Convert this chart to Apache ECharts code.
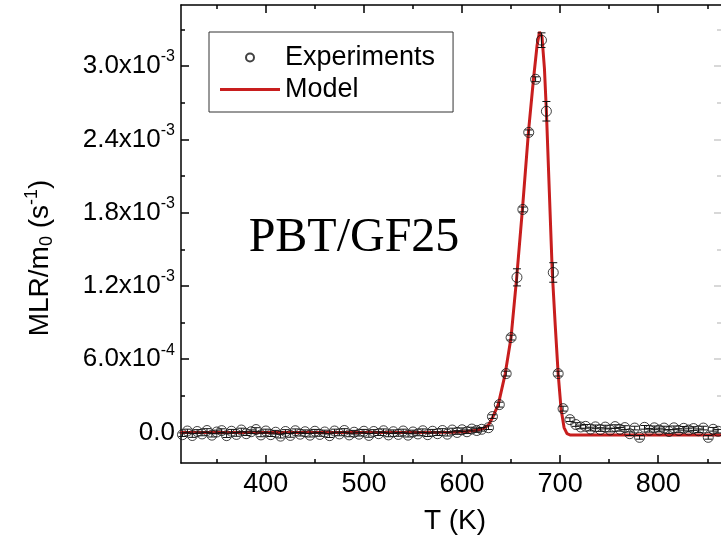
<!DOCTYPE html>
<html>
<head>
<meta charset="utf-8">
<script src="https://cdn.jsdelivr.net/npm/echarts@6/dist/echarts.min.js"></script>
<style>
html, body { margin: 0; padding: 0; background: #fff; }
#chart { width: 721px; height: 541px; }
</style>
</head>
<body>
<div id="chart"></div>
<script>
// experiment points, baseline before the peak (T in K, MLR/m0 in 1/s)
const preT = [315, 320, 325, 330, 335, 340, 345, 350, 355, 360, 365, 370, 375, 380, 385, 390, 395, 400, 405, 410,
  415, 420, 425, 430, 435, 440, 445, 450, 455, 460, 465, 470, 475, 480, 485, 490, 495, 500, 505, 510,
  515, 520, 525, 530, 535, 540, 545, 550, 555, 560, 565, 570, 575, 580, 585, 590, 595, 600, 605, 610, 615, 620]
const preV = [-1.8e-5, 1.2e-5, -2.5e-5, 0.8e-5, -1.2e-5, 1.6e-5, -2.2e-5, 0.4e-5, 1.5e-5, -2.6e-5,
  1.0e-5, -1.6e-5, 2.0e-5, -1.0e-5, 0.6e-5, 2.4e-5, -2.0e-5, 1.2e-5, -1.8e-5, 0.2e-5,
  -3.0e-5, 0.8e-5, -2.4e-5, 1.4e-5, -1.4e-5, 0.6e-5, -2.2e-5, 1.0e-5, -1.6e-5, 0.4e-5,
  -2.6e-5, 1.2e-5, -1.2e-5, 1.6e-5, -2.0e-5, 0.2e-5, -1.4e-5, 1.0e-5, -2.4e-5, 0.8e-5,
  -1.0e-5, 1.4e-5, -2.0e-5, 0.6e-5, -1.6e-5, 1.2e-5, -2.2e-5, 0.4e-5, -1.2e-5, 1.4e-5,
  -1.8e-5, 1.0e-5, -1.0e-5, 1.6e-5, -1.4e-5, 2.0e-5, 0.0, 2.2e-5, 0.6e-5, 2.8e-5, 1.6e-5, 2.6e-5]

// experiment points through the peak, with their error bars
const peakT = [627, 631, 638, 645, 650, 656, 662, 668, 675, 681, 686, 693, 698, 703, 710]
const peakV = [3.9e-5, 1.3e-4, 2.28e-4, 4.82e-4, 7.77e-4, 1.27e-3, 1.826e-3, 2.457e-3, 2.892e-3, 3.212e-3,
  2.63e-3, 1.31e-3, 4.82e-4, 1.95e-4, 1.05e-4]
const peakE = [1.5e-5, 1.5e-5, 2e-5, 2e-5, 2e-5, 7e-5, 2e-5, 2e-5, 2e-5, 6e-5, 8e-5, 8e-5, 2e-5, 2e-5, 1.5e-5]

// experiment points, baseline after the peak
const postT = [716, 721, 726, 731, 736, 741, 746, 751, 756, 761, 766, 771, 776, 781, 786, 791, 796, 801, 806, 811,
  816, 821, 826, 831, 836, 841, 846, 851, 856, 861]
const postV = [6.5e-5, 4.5e-5, 5.0e-5, 2.8e-5, 4.6e-5, 2.4e-5, 4.4e-5, 2.0e-5, 4.8e-5, 2.6e-5,
  4.0e-5, -1.0e-5, 3.6e-5, -4.0e-5, 4.2e-5, 1.8e-5, 3.8e-5, 2.0e-5, 3.6e-5, 0.8e-5,
  3.8e-5, 1.6e-5, 3.4e-5, 2.0e-5, 3.2e-5, 1.4e-5, 3.6e-5, -4.0e-5, 2.6e-5, 1.0e-5]
const baseErr = 1.5e-5

// model curve
const modelT = [313, 450, 550, 590, 605, 615, 622, 627, 631, 637, 644, 650, 655.5, 661.6, 667.7, 672.8, 676.5,
  679, 681.5, 684, 686, 689, 692, 695, 698, 701, 704, 707, 710, 720, 800, 864]
const modelV = [0, 0, 0, 0.2e-5, 0.8e-5, 1.8e-5, 3.5e-5, 6e-5, 1.2e-4, 2.3e-4, 4.8e-4, 7.8e-4, 1.25e-3, 1.83e-3,
  2.46e-3, 2.89e-3, 3.17e-3, 3.28e-3, 3.24e-3, 2.98e-3, 2.63e-3, 1.97e-3, 1.31e-3, 8.8e-4, 4.8e-4, 1.9e-4,
  4e-5, -1e-5, -2e-5, -2e-5, -2e-5, -2e-5]

// ticks
const xMajor = [400, 500, 600, 700, 800]
const xMinor = [350, 450, 550, 650, 750, 850]
const yMajor = [0, 0.0006, 0.0012, 0.0018, 0.0024, 0.003]
const yMinor = [0.0003, 0.0009, 0.0015, 0.0021, 0.0027, 0.0033]

const FONT = 'Liberation Sans'
const RED = '#c81e1e'
const X_MIN = 313.5, X_MAX = 864
const Y_MIN = -2.5e-4, Y_MAX = 3.5e-3

const expData = []
preT.forEach((t, i) => expData.push([t, preV[i], baseErr]))
peakT.forEach((t, i) => expData.push([t, peakV[i], peakE[i]]))
postT.forEach((t, i) => expData.push([t, postV[i], baseErr]))
const modelData = modelT.map((t, i) => [t, modelV[i]])

function yLabel(v) {
  if (v === 0) return '{m|0.0}'
  const exp = Math.floor(Math.log10(v) + 1e-9)
  const mant = (v / Math.pow(10, exp)).toFixed(1)
  return '{m|' + mant + 'x10}{s|' + exp + '}'
}

const black = { color: '#000', width: 1.5 }

function axis(dim, pos, ticks, len, color, extra) {
  return Object.assign({
    type: 'value',
    position: pos,
    min: dim === 'x' ? X_MIN : Y_MIN,
    max: dim === 'x' ? X_MAX : Y_MAX,
    axisLine: { show: false, onZero: false },
    axisTick: { show: true, inside: true, length: len, customValues: ticks, lineStyle: { color: color, width: 1.5 } },
    axisLabel: { show: false },
    splitLine: { show: false }
  }, extra || {})
}

const chart = echarts.init(document.getElementById('chart'))
chart.setOption({
  animation: false,
  backgroundColor: '#fff',
  grid: { left: 181, top: 5, width: 541, height: 458 },
  legend: {
    left: 209, top: 32,
    orient: 'vertical',
    data: [
      { name: 'Experiments' },
      { name: 'Model', icon: 'path://M0,0L60,0L60,3L0,3Z', itemStyle: { color: RED } }
    ],
    itemWidth: 60, itemHeight: 8, itemGap: 5,
    padding: [12, 18, 9, 11],
    borderColor: '#333', borderWidth: 1,
    backgroundColor: '#fff',
    textStyle: { fontFamily: FONT, fontSize: 27, color: '#000' }
  },
  xAxis: [
    axis('x', 'bottom', xMajor, 8, '#000', {
      axisLine: { show: true, onZero: false, lineStyle: black },
      axisLabel: { show: true, customValues: xMajor, margin: 8, fontFamily: FONT, fontSize: 27, color: '#000' },
      name: 'T (K)', nameLocation: 'middle', nameGap: 44,
      nameTextStyle: { fontFamily: FONT, fontSize: 28, color: '#000', padding: [0, 0, 0, 8] }
    }),
    axis('x', 'bottom', xMinor, 4, '#000'),
    axis('x', 'top', xMajor, 8, '#000', { axisLine: { show: true, onZero: false, lineStyle: black } }),
    axis('x', 'top', xMinor, 4, '#000')
  ],
  yAxis: [
    axis('y', 'left', yMajor, 8, '#000', {
      axisLine: { show: true, onZero: false, lineStyle: black },
      axisLabel: {
        show: true, customValues: yMajor, margin: 6,
        formatter: yLabel,
        rich: {
          m: { fontFamily: FONT, fontSize: 26, color: '#000' },
          s: { fontFamily: FONT, fontSize: 16, color: '#000', padding: [0, 0, 18, 0] }
        }
      }
    }),
    axis('y', 'left', yMinor, 4, '#000'),
    axis('y', 'right', yMajor, 7, '#ccc'),
    axis('y', 'right', yMinor, 4, '#ccc')
  ],
  graphic: [
    {
      type: 'text', x: 354, y: 238,
      style: { text: 'PBT/GF25', fontFamily: 'Liberation Serif', fontSize: 48, fill: '#000', align: 'center', verticalAlign: 'middle' }
    },
    {
      type: 'text', x: 40, y: 258, rotation: Math.PI / 2,
      style: {
        text: 'MLR/m{sub|0} (s{sup|-1})',
        fontFamily: FONT, fontSize: 28, fill: '#000', align: 'center', verticalAlign: 'middle',
        rich: {
          sub: { fontFamily: FONT, fontSize: 18, fill: '#000', padding: [14, 0, 0, 0] },
          sup: { fontFamily: FONT, fontSize: 18, fill: '#000', padding: [0, 0, 16, 0] }
        }
      }
    }
  ],
  series: [
    {
      name: 'Model',
      type: 'line',
      data: modelData,
      symbol: 'none',
      showSymbol: false,
      lineStyle: { color: RED, width: 3 },
      itemStyle: { color: RED },
      z: 2
    },
    {
      name: 'Experiments',
      type: 'scatter',
      data: expData,
      symbol: 'circle',
      symbolSize: 10,
      itemStyle: { color: 'rgba(0,0,0,0)', borderColor: '#111', borderWidth: 1 },
      z: 3
    },
    {
      name: 'errors',
      type: 'custom',
      data: expData,
      encode: { x: 0, y: 1 },
      z: 3,
      renderItem: (params, api) => {
        const x = api.value(0), y = api.value(1), e = api.value(2)
        const top = api.coord([x, y + e])
        const bot = api.coord([x, y - e])
        const w = 4
        const style = { stroke: '#111', lineWidth: 1 }
        return {
          type: 'group',
          children: [
            { type: 'line', shape: { x1: top[0], y1: top[1], x2: bot[0], y2: bot[1] }, style },
            { type: 'line', shape: { x1: top[0] - w, y1: top[1], x2: top[0] + w, y2: top[1] }, style },
            { type: 'line', shape: { x1: bot[0] - w, y1: bot[1], x2: bot[0] + w, y2: bot[1] }, style }
          ]
        }
      }
    }
  ]
})
</script>
</body>
</html>
